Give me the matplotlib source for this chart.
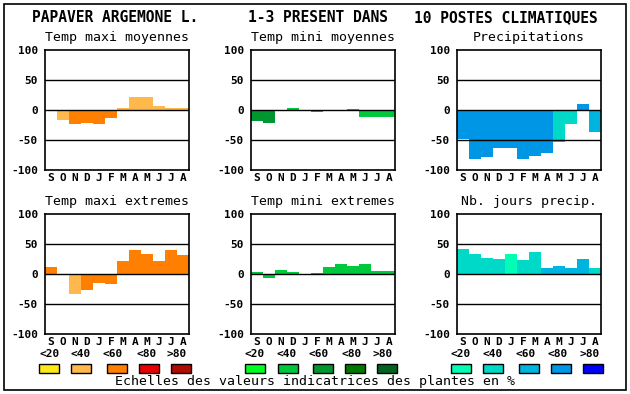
import matplotlib
matplotlib.use("Agg")
import matplotlib.pyplot as plt
from matplotlib.patches import Rectangle

W, H = 630, 394

months = ["S", "O", "N", "D", "J", "F", "M", "A", "M", "J", "J", "A"]
yticks = [100, 50, 0, -50, -100]
class_labels = ["<20", "<40", "<60", "<80", ">80"]

orange = ["#ffe81a", "#ffb84c", "#ff8000", "#e80000", "#b00c00"]
green = ["#00ff20", "#00c83c", "#009630", "#007800", "#006420"]
blue = ["#00ffb4", "#00d8c8", "#00b4e0", "#0096e6", "#0000ff"]

tmax_moy = [0, -16, -23, -21, -23, -14, 3, 22, 22, 7, 4, 4]
tmax_moy_cls = [1, 1, 2, 2, 2, 2, 1, 1, 1, 1, 1, 1]

tmin_moy = [-18, -22, 0, 3, 0, -4, 0, 0, 2, -11, -12, -11]
tmin_moy_cls = [2, 2, 1, 1, 1, 1, 1, 1, 1, 1, 1, 1]

precip = [-48, -81, -78, -64, -64, -81, -76, -71, -54, -23, 10, -36]
precip_cls = [3, 3, 3, 3, 3, 3, 3, 3, 1, 1, 3, 2]

tmax_ext = [12, 0, -34, -26, -15, -16, 21, 40, 33, 21, 40, 32]
tmax_ext_cls = [2, 2, 1, 2, 2, 2, 2, 2, 2, 2, 2, 2]

tmin_ext = [3, -6, 7, 3, 0, 2, 12, 17, 13, 17, 5, 5]
tmin_ext_cls = [1, 1, 1, 1, 1, 1, 1, 1, 1, 1, 1, 1]

nb_jours = [42, 33, 27, 25, 33, 23, 37, 10, 13, 10, 25, 10]
nb_jours_cls = [1, 1, 1, 1, 0, 1, 1, 2, 2, 2, 2, 1]

MONO = "DejaVu Sans Mono"


def px(x, y):
    # pixel (from top-left) -> figure fraction
    return x / W, 1 - y / H


def panel(fig, left, top, title, values, cls, palette):
    ax = fig.add_axes([left / W, 1 - (top + 120) / H, 144 / W, 120 / H])
    x = range(len(values))
    ax.bar(x, values, width=1.0, color=[palette[c] for c in cls],
           linewidth=0, zorder=1)
    for g in (50, 0, -50):
        ax.axhline(g, color="black", linewidth=1, zorder=3)
    ax.set_xlim(-0.5, 11.5)
    ax.set_ylim(-100, 100)
    ax.set_yticks(yticks)
    ax.set_yticklabels([str(t) for t in yticks], family=MONO,
                       fontweight="bold", fontsize=8)
    ax.set_xticks(list(x))
    ax.set_xticklabels(months, family=MONO, fontweight="bold", fontsize=8)
    ax.tick_params(length=0, pad=2)
    ax.tick_params(axis="y", pad=5)
    for s in ax.spines.values():
        s.set_linewidth(1.2)
        s.set_zorder(4)
    fx, fy = px(left + 72, top - 12)
    fig.text(fx, fy, title, family=MONO, fontsize=9.5, ha="center", va="center")
    return ax


def legend(fig, palette, box_x, label_x):
    for c, bx, lx, lab in zip(palette, box_x, label_x, class_labels):
        fx, fy = px(bx, 373)
        fig.patches.append(Rectangle((fx, fy), 20 / W, 9 / H, facecolor=c,
                                     edgecolor="black", linewidth=1,
                                     transform=fig.transFigure))
        tx, ty = px(lx, 354)
        fig.text(tx, ty, lab, family=MONO, fontweight="bold", fontsize=8,
                 ha="center", va="center")


fig = plt.figure(figsize=(W / 100, H / 100), dpi=100)
fig.patches.append(Rectangle(px(4, 390), 622 / W, 386 / H, fill=False,
                             edgecolor="black", linewidth=1.2,
                             transform=fig.transFigure))

for txt, cx in [("PAPAVER ARGEMONE L.", 115), ("1-3 PRESENT DANS", 318),
                ("10 POSTES CLIMATIQUES", 506)]:
    fx, fy = px(cx, 18)
    fig.text(fx, fy, txt, family=MONO, fontweight="bold", fontsize=10.5,
             ha="center", va="center")

panel(fig, 45, 50, "Temp maxi moyennes", tmax_moy, tmax_moy_cls, orange)
panel(fig, 251, 50, "Temp mini moyennes", tmin_moy, tmin_moy_cls, green)
panel(fig, 457, 50, "Precipitations", precip, precip_cls, blue)
panel(fig, 45, 214, "Temp maxi extremes", tmax_ext, tmax_ext_cls, orange)
panel(fig, 251, 214, "Temp mini extremes", tmin_ext, tmin_ext_cls, green)
panel(fig, 457, 214, "Nb. jours precip.", nb_jours, nb_jours_cls, blue)

legend(fig, orange, [39, 71, 107, 139, 171], [50, 81, 113, 147, 177])
legend(fig, green, [245, 278, 313, 345, 377], [255, 287, 319, 352, 383])
legend(fig, blue, [451, 483, 519, 551, 583], [461, 493, 526, 558, 590])

fx, fy = px(315, 382)
fig.text(fx, fy, "Echelles des valeurs indicatrices des plantes en %",
         family=MONO, fontsize=9.5, ha="center", va="center")

fig.savefig("out.png", dpi=100)
